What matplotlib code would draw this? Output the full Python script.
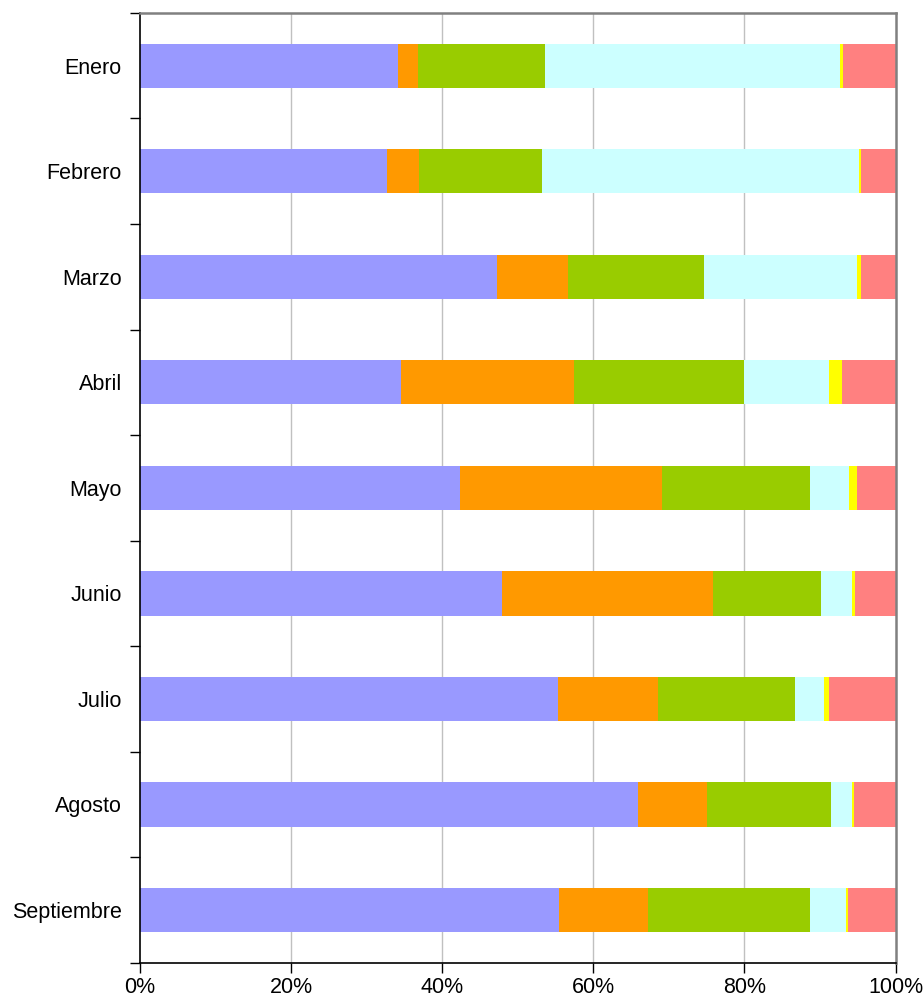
import matplotlib
matplotlib.use("Agg")
import matplotlib.pyplot as plt
import numpy as np

plt.rcParams['font.family'] = ['Liberation Sans', 'DejaVu Sans']

months = ["Enero", "Febrero", "Marzo", "Abril", "Mayo", "Junio", "Julio", "Agosto", "Septiembre"]
s1 = [34.1, 32.7, 47.3, 34.6, 42.4, 47.9, 55.3, 65.9, 55.5]
s2 = [2.7, 4.3, 9.4, 22.85, 26.7, 28.0, 13.3, 9.2, 11.7]
s3 = [16.8, 16.2, 18.0, 22.55, 19.6, 14.2, 18.1, 16.35, 21.5]
s4 = [39.05, 42.0, 20.25, 11.2, 5.2, 4.1, 3.8, 2.75, 4.7]
s5 = [0.4, 0.25, 0.45, 1.7, 1.0, 0.4, 0.7, 0.3, 0.3]
s6 = [6.95, 4.55, 4.6, 7.1, 5.1, 5.4, 8.8, 5.5, 6.3]
series = [s1, s2, s3, s4, s5, s6]
colors = ["#9999FF", "#FF9900", "#99CC00", "#CCFFFF", "#FFFF00", "#FF8080"]
xtick_vals = [0, 20, 40, 60, 80, 100]
xtick_labels = ["0%", "20%", "40%", "60%", "80%", "100%"]

fig = plt.figure(figsize=(9.23, 10.05), dpi=100)
ax = fig.add_axes([0.1515, 0.0421, 0.8188, 0.945])

data = np.array(series, dtype=float)
totals = data.sum(axis=0)
pct = data / totals * 100
y = np.arange(len(months))
left = np.zeros(len(months))
for vals, c in zip(pct, colors):
    ax.barh(y, vals, left=left, height=0.42, color=c, edgecolor='none', zorder=2)
    left += vals

ax.set_xlim(0, 100)
ax.set_ylim(len(months) - 0.5, -0.5)

ax.set_xticks(xtick_vals)
ax.set_xticklabels(xtick_labels, fontsize=15.5)
ax.tick_params(axis='x', direction='out', length=7, width=1, pad=3, color='black')
for xv in xtick_vals[1:-1]:
    ax.axvline(xv, color='#C0C0C0', lw=1, zorder=1)

ax.set_yticks(np.arange(-0.5, len(months), 1.0))
ax.set_yticklabels([])
ax.tick_params(axis='y', which='major', direction='out', length=7, width=1, color='black')
ax.set_yticks(y, minor=True)
ax.set_yticklabels(months, minor=True, fontsize=15.5)
ax.tick_params(axis='y', which='minor', length=0, pad=13)

for side in ['left', 'bottom']:
    ax.spines[side].set_color('black')
    ax.spines[side].set_linewidth(1.2)
for side in ['top', 'right']:
    ax.spines[side].set_color('#808080')
    ax.spines[side].set_linewidth(1.8)

fig.savefig("out.png", dpi=100)
